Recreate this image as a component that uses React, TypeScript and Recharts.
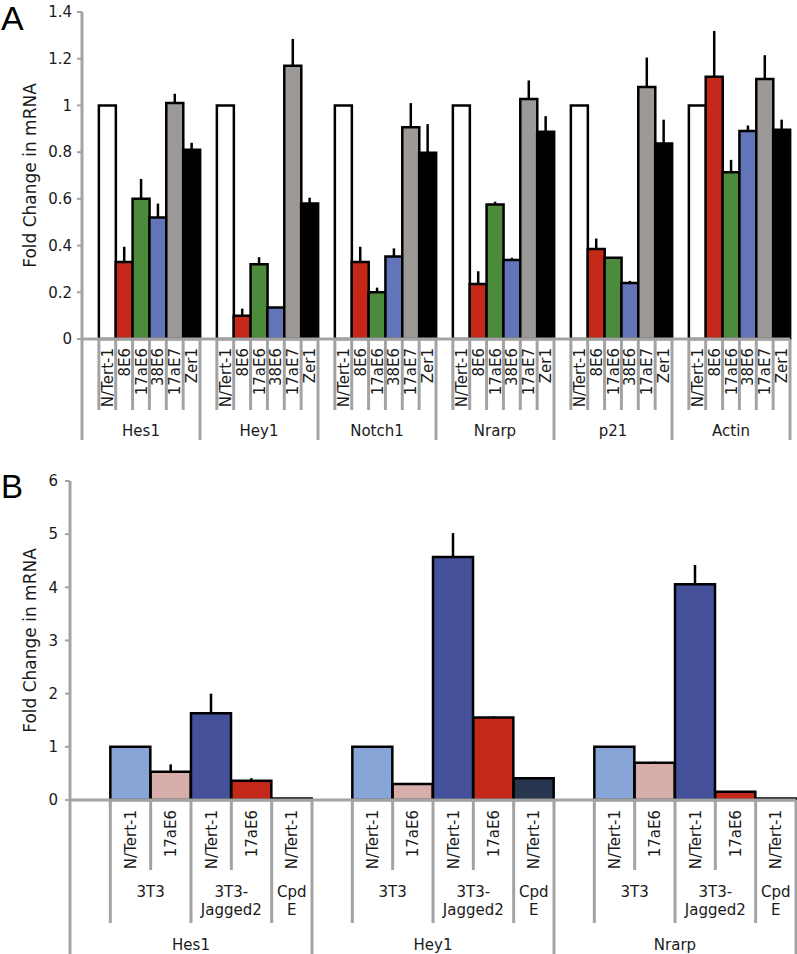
import React from 'react'
import { Bar, BarChart, Cell, ErrorBar, XAxis, YAxis } from 'recharts'

// panel A: six genes, six cell lines each
const genesA = ['Hes1', 'Hey1', 'Notch1', 'Nrarp', 'p21', 'Actin']
const cellLinesA = ['N/Tert-1', '8E6', '17aE6', '38E6', '17aE7', 'Zer1']
const colorsA = ['#ffffff', '#c52818', '#4b8b3b', '#6275b8', '#9c9997', '#000000']
const hes1A = [1.0, 0.33, 0.6, 0.52, 1.01, 0.81]
const hes1ErrA = [0, 0.065, 0.085, 0.06, 0.04, 0.03]
const hey1A = [1.0, 0.1, 0.32, 0.135, 1.17, 0.58]
const hey1ErrA = [0, 0.03, 0.03, 0, 0.115, 0.025]
const notch1A = [1.0, 0.33, 0.2, 0.353, 0.907, 0.797]
const notch1ErrA = [0, 0.065, 0.02, 0.035, 0.103, 0.123]
const nrarpA = [1.0, 0.235, 0.576, 0.338, 1.027, 0.887]
const nrarpErrA = [0, 0.055, 0.012, 0.01, 0.08, 0.067]
const p21A = [1.0, 0.385, 0.348, 0.24, 1.079, 0.837]
const p21ErrA = [0, 0.045, 0, 0.009, 0.126, 0.102]
const actinA = [1.0, 1.123, 0.714, 0.89, 1.113, 0.896]
const actinErrA = [0, 0.196, 0.053, 0.024, 0.102, 0.043]
const yTicksA = [0, 0.2, 0.4, 0.6, 0.8, 1, 1.2, 1.4]

// panel B: three genes, cell line within condition
const genesB = ['Hes1', 'Hey1', 'Nrarp']
const cellLinesB = ['N/Tert-1', '17aE6', 'N/Tert-1', '17aE6', 'N/Tert-1']
const conditionOfB = [0, 0, 1, 1, 2]
const conditionsB = [['3T3'], ['3T3-', 'Jagged2'], ['Cpd', 'E']]
const colorsB = ['#87a6d7', '#d8aeaa', '#45509a', '#c3281a', '#27354f']
const hes1B = [1.0, 0.53, 1.63, 0.36, 0.03]
const hes1ErrB = [0, 0.14, 0.37, 0.05, 0]
const hey1B = [1.0, 0.3, 4.57, 1.55, 0.41]
const hey1ErrB = [0, 0, 0.45, 0.02, 0]
const nrarpB = [1.0, 0.7, 4.06, 0.156, 0.03]
const nrarpErrB = [0, 0.02, 0.36, 0, 0]
const yTicksB = [0, 1, 2, 3, 4, 5, 6]

const GRAY = '#a3a3a3'
const INK = '#1a1a1a'

// layout
const W = 797
const A_H = 460
const A_TOP = 12
const A_YW = 82
const A_XH = 121
const A_RIGHT = 7
const B_H = 494
const B_TOP = 21
const B_YW = 70
const B_XH = 154
const B_RIGHT = 1

type Row = {
  key: string
  value?: number
  err?: number[]
  fill: string
  gene: string
  label: string
  gap: boolean
  lastGroup?: boolean
  subStart?: boolean
  subSize?: number
  sub?: number
}

const valuesA = [hes1A, hey1A, notch1A, nrarpA, p21A, actinA]
const errorsA = [hes1ErrA, hey1ErrA, notch1ErrA, nrarpErrA, p21ErrA, actinErrA]
const rowsA: Row[] = []
genesA.forEach((gene, g) => {
  rowsA.push({ key: `${gene}|gap`, gene, label: '', gap: true, fill: 'none', lastGroup: g === genesA.length - 1 })
  cellLinesA.forEach((line, i) => {
    const e = errorsA[g][i]
    rowsA.push({
      key: `${gene}|${line}`, value: valuesA[g][i], err: e > 0 ? [0, e] : undefined,
      fill: colorsA[i], gene, label: line, gap: false,
    })
  })
})

const valuesB = [hes1B, hey1B, nrarpB]
const errorsB = [hes1ErrB, hey1ErrB, nrarpErrB]
const rowsB: Row[] = []
genesB.forEach((gene, g) => {
  rowsB.push({ key: `${gene}|gap`, gene, label: '', gap: true, fill: 'none', lastGroup: g === genesB.length - 1 })
  cellLinesB.forEach((line, i) => {
    const e = errorsB[g][i]
    const c = conditionOfB[i]
    rowsB.push({
      key: `${gene}|${i}`, value: valuesB[g][i], err: e > 0 ? [0, e] : undefined,
      fill: colorsB[i], gene, label: line, gap: false, sub: c,
      subStart: i === 0 || conditionOfB[i - 1] !== c,
      subSize: conditionOfB.filter(k => k === c).length,
    })
  })
})

const rowMapA: Record<string, Row> = Object.fromEntries(rowsA.map(r => [r.key, r]))
const rowMapB: Record<string, Row> = Object.fromEntries(rowsB.map(r => [r.key, r]))

const SLOT_A = (W - A_YW - A_RIGHT) / rowsA.length
const GROUP_A = SLOT_A * (cellLinesA.length + 1)
const SLOT_B = (W - B_YW - B_RIGHT) / rowsB.length
const GROUP_B = SLOT_B * (cellLinesB.length + 1)

function TickA(props: any) {
  const { x, y, payload } = props
  const row = rowMapA[payload.value]
  if (!row) return null
  const left = x - SLOT_A / 2
  if (row.gap) {
    return (
      <g>
        <line x1={left} x2={left} y1={y} y2={y + 101} stroke={GRAY} strokeWidth={3} />
        {row.lastGroup && (
          <line x1={left + GROUP_A} x2={left + GROUP_A} y1={y} y2={y + 101} stroke={GRAY} strokeWidth={3} />
        )}
        <text x={left + GROUP_A / 2} y={y + 97} textAnchor='middle' fontSize={15} fill={INK}>{row.gene}</text>
      </g>
    )
  }
  return (
    <g>
      <line x1={left} x2={left} y1={y} y2={y + 71} stroke={GRAY} strokeWidth={3} />
      <text transform={`translate(${x + 5.5},${y + 9}) rotate(-90)`} textAnchor='end' fontSize={15} fill={INK}>
        {row.label}
      </text>
    </g>
  )
}

function TickB(props: any) {
  const { x, y, payload } = props
  const row = rowMapB[payload.value]
  if (!row) return null
  const left = x - SLOT_B / 2
  if (row.gap) {
    return (
      <g>
        <line x1={left} x2={left} y1={y} y2={y + 154} stroke={GRAY} strokeWidth={3} />
        {row.lastGroup && (
          <line x1={left + GROUP_B} x2={left + GROUP_B} y1={y} y2={y + 154} stroke={GRAY} strokeWidth={3} />
        )}
        <text x={left + GROUP_B / 2} y={y + 150} textAnchor='middle' fontSize={15} fill={INK}>{row.gene}</text>
      </g>
    )
  }
  const subLines = row.subStart ? conditionsB[row.sub as number] : []
  const subCenter = left + ((row.subSize as number) * SLOT_B) / 2
  return (
    <g>
      <line x1={left} x2={left} y1={y} y2={y + (row.subStart ? 123 : 70)} stroke={GRAY} strokeWidth={3} />
      <text transform={`translate(${x + 5.5},${y + 10}) rotate(-90)`} textAnchor='end' fontSize={15} fill={INK}>
        {row.label}
      </text>
      {subLines.map((t, i) => (
        <text key={t} x={subCenter} y={y + 97 + i * 18} textAnchor='middle' fontSize={15} fill={INK}>{t}</text>
      ))}
    </g>
  )
}

function YTitle(props: any) {
  const vb = props.viewBox || { x: 0, y: 0, width: 0, height: 0 }
  const cx = vb.x + props.dx
  const cy = vb.y + vb.height / 2
  return (
    <text
      x={cx} y={cy} transform={`rotate(-90, ${cx}, ${cy})`}
      textAnchor='middle' dominantBaseline='central' fontSize={17} fill={INK}
    >
      Fold Change in mRNA
    </text>
  )
}

export default function App() {
  return (
    <div style={{ position: 'absolute', left: 0, top: 0, width: W, height: 954, fontFamily: "'DejaVu Sans', sans-serif", background: '#fff' }}>
      <div style={{ position: 'absolute', left: 1, top: 1, fontSize: 34, lineHeight: 1, fontFamily: "'Liberation Sans', Arial, sans-serif" }}>A</div>
      <div style={{ position: 'absolute', left: 1, top: 470, fontSize: 33, lineHeight: 1, fontFamily: "'Liberation Sans', Arial, sans-serif" }}>B</div>

      <div style={{ position: 'absolute', left: 0, top: 0 }}>
        <BarChart
          width={W}
          height={A_H}
          data={rowsA}
          margin={{ top: A_TOP, right: A_RIGHT, left: 0, bottom: 0 }}
          barCategoryGap={0}
          barGap={0}
        >
          <XAxis
            dataKey='key'
            height={A_XH}
            interval={0}
            tickSize={0}
            tickMargin={0}
            tickLine={false}
            axisLine={{ stroke: GRAY, strokeWidth: 3 }}
            tick={(p: any) => <TickA {...p} />}
          />
          <YAxis
            width={A_YW}
            domain={[0, 1.4]}
            ticks={yTicksA}
            tickFormatter={(v: number) => String(v)}
            axisLine={{ stroke: GRAY, strokeWidth: 3 }}
            tickLine={{ stroke: GRAY, strokeWidth: 2 }}
            tickSize={5}
            tickMargin={5}
            tick={{ fontSize: 15, fill: INK }}
            label={(p: any) => <YTitle {...p} dx={30} />}
          />
          <Bar dataKey='value' stroke='#000' strokeWidth={2.5} isAnimationActive={false}>
            {rowsA.map(r => <Cell key={r.key} fill={r.fill} />)}
            <ErrorBar dataKey='err' direction='y' width={0} stroke='#000' strokeWidth={2.5} isAnimationActive={false} />
          </Bar>
        </BarChart>
      </div>

      <div style={{ position: 'absolute', left: 0, top: 460 }}>
        <BarChart
          width={W}
          height={B_H}
          data={rowsB}
          margin={{ top: B_TOP, right: B_RIGHT, left: 0, bottom: 0 }}
          barCategoryGap={0}
          barGap={0}
        >
          <XAxis
            dataKey='key'
            height={B_XH}
            interval={0}
            tickSize={0}
            tickMargin={0}
            tickLine={false}
            axisLine={{ stroke: GRAY, strokeWidth: 3 }}
            tick={(p: any) => <TickB {...p} />}
          />
          <YAxis
            width={B_YW}
            domain={[0, 6]}
            ticks={yTicksB}
            axisLine={{ stroke: GRAY, strokeWidth: 3 }}
            tickLine={{ stroke: GRAY, strokeWidth: 2 }}
            tickSize={5}
            tickMargin={7}
            tick={{ fontSize: 15, fill: INK }}
            label={(p: any) => <YTitle {...p} dx={30} />}
          />
          <Bar dataKey='value' stroke='#000' strokeWidth={2.5} isAnimationActive={false}>
            {rowsB.map(r => <Cell key={r.key} fill={r.fill} />)}
            <ErrorBar dataKey='err' direction='y' width={0} stroke='#000' strokeWidth={2.5} isAnimationActive={false} />
          </Bar>
        </BarChart>
      </div>
    </div>
  )
}
